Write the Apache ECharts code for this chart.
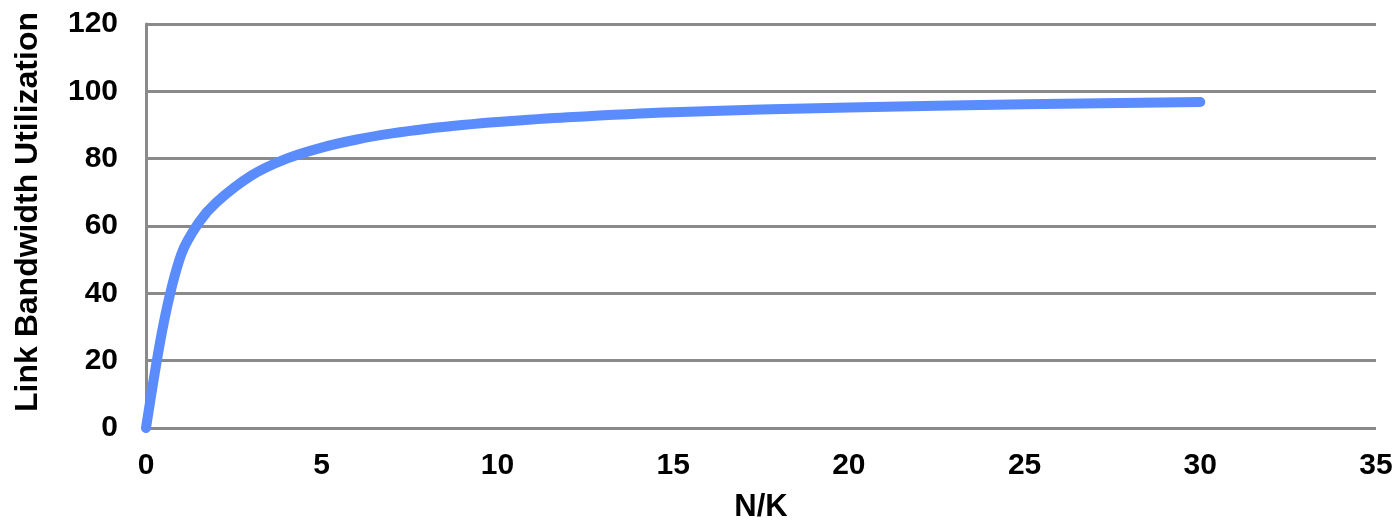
<!DOCTYPE html>
<html>
<head>
<meta charset="utf-8">
<script src="https://cdn.jsdelivr.net/npm/echarts@6/dist/echarts.min.js"></script>
<style>html,body{margin:0;padding:0;background:#fff;}#c{width:1398px;height:523px;}</style>
</head>
<body>
<div id="c"></div>
<script>
const nk = [0, 0.5, 1, 1.5, 2, 3, 4, 5, 6, 7, 8, 9, 10, 12, 15, 20, 25, 30];
const utilization = [0, 31, 51.5, 61, 67, 75, 80, 83.3, 85.7, 87.5, 88.9, 90, 90.9, 92.3, 93.8, 95.2, 96.2, 96.8];
const xTitle = 'N/K';
const yTitle = 'Link Bandwidth Utilization';

const chart = echarts.init(document.getElementById('c'), null, {renderer: 'canvas'});
const font = 'Liberation Sans, Arial, sans-serif';
chart.setOption({
  animation: false,
  grid: {left: 146, right: 22, top: 24, bottom: 95, containLabel: false, outerBoundsMode: 'none'},
  xAxis: {
    type: 'value', min: 0, max: 35, interval: 5,
    name: xTitle, nameLocation: 'middle', nameGap: 64,
    nameTextStyle: {fontFamily: font, fontWeight: 'bold', fontSize: 31, color: '#000'},
    axisLine: {show: false},
    axisTick: {show: false},
    splitLine: {show: false},
    axisLabel: {fontFamily: font, fontWeight: 'bold', fontSize: 30, color: '#000', margin: 23}
  },
  yAxis: {
    type: 'value', min: 0, max: 120, interval: 20,
    name: yTitle, nameLocation: 'middle', nameGap: 102,
    nameTextStyle: {fontFamily: font, fontWeight: 'bold', fontSize: 32, color: '#000', padding: [0, 0, 0, 28]},
    axisLine: {show: true, lineStyle: {color: '#8a8a8a', width: 3}},
    axisTick: {show: false},
    splitLine: {show: true, lineStyle: {color: '#8a8a8a', width: 3}},
    axisLabel: {fontFamily: font, fontWeight: 'bold', fontSize: 30, color: '#000', margin: 28}
  },
  series: [{
    type: 'line',
    data: nk.map((x, i) => [x, utilization[i]]),
    smooth: 0.3,
    showSymbol: false,
    lineStyle: {color: '#5a8cfd', width: 10, cap: 'round', join: 'round'}
  }]
});
</script>
</body>
</html>
